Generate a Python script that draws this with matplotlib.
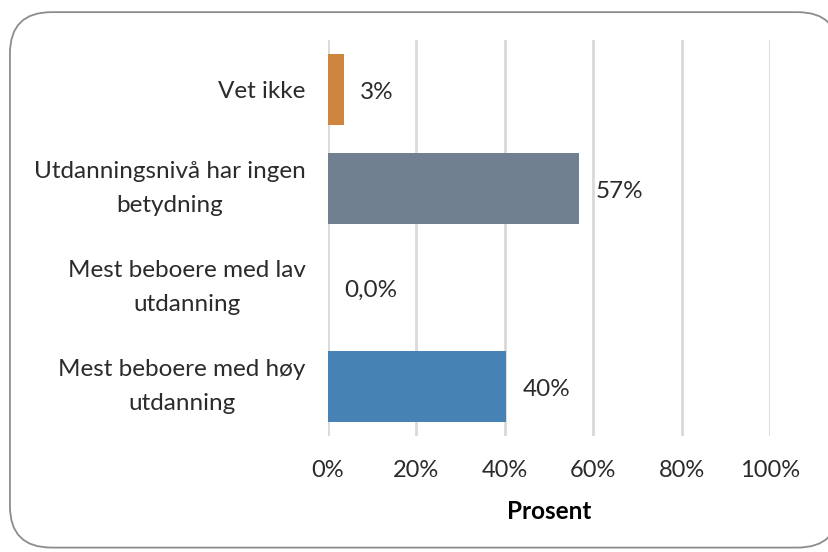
import matplotlib.pyplot as plt
from matplotlib.patches import FancyBboxPatch

plt.rcParams['font.family'] = ['Lato', 'DejaVu Sans']

categories = ['Mest beboere med høy\nutdanning', 'Mest beboere med lav\nutdanning',
              'Utdanningsnivå har ingen\nbetydning', 'Vet ikke']
values = [40.2, 0.0, 56.8, 3.5]
value_labels = ['40%', '0,0%', '57%', '3%']
colors = ['steelblue', 'steelblue', 'slategray', 'peru']
ticks = [0, 20, 40, 60, 80, 100]

fig = plt.figure(figsize=(8.29, 5.52), dpi=100)
frame = FancyBboxPatch((0.012, 0.008), 1.0, 0.97, boxstyle='round,pad=0,rounding_size=0.05',
                       transform=fig.transFigure, fc='white', ec='#8c8c8c', lw=1.3,
                       mutation_aspect=829 / 552, zorder=-10)
fig.patches.append(frame)

ax = fig.add_axes([0.3957, 0.2101, 0.5331, 0.7174])
ax.set_facecolor('none')
y = range(len(categories))
ax.barh(y, values, height=0.71, color=colors, zorder=3)
for yi, v, lab in zip(y, values, value_labels):
    ax.annotate(lab, (v, yi), xytext=(12, -2), textcoords='offset points',
                va='center', ha='left', fontsize=17.5, color='#2b2b2b')

ax.set_xlim(0, 100)
ax.set_ylim(-0.5, len(categories) - 0.5)
ax.set_xticks(ticks)
ax.set_xticklabels([f'{t}%' for t in ticks])
ax.set_yticks(list(y))
ax.set_yticklabels(categories)
for lbl in ax.get_yticklabels():
    lbl.set_multialignment('center')
    lbl.set_linespacing(1.72)
    lbl.set_verticalalignment('center' if '\n' in lbl.get_text() else 'center_baseline')
ax.tick_params(axis='both', length=0, colors='#2b2b2b')
ax.tick_params(axis='x', pad=17, labelsize=17)
ax.tick_params(axis='y', pad=16, labelsize=17.5)
ax.grid(axis='x', color='#d9d9d9', lw=2, zorder=0)
for s in ax.spines.values():
    s.set_visible(False)
ax.set_xlabel('Prosent', fontsize=17.5, fontweight='bold', labelpad=14)

fig.savefig('out.png', dpi=100)
